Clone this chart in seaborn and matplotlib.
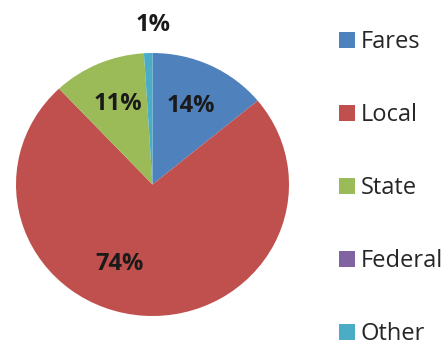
import numpy as np
import matplotlib
matplotlib.use("Agg")
import matplotlib.pyplot as plt
import seaborn as sns
from matplotlib.patches import Patch

categories = ["Fares", "Local", "State", "Federal", "Other"]
shares = [14, 74, 11, 0, 1]
labels = ["14%", "74%", "11%", "", "1%"]

palette = ["#4F81BD", "#C0504D", "#9BBB59", "#8064A2", "#4BACC6"]

sns.set_theme(style="white")
plt.rcParams["font.family"] = ["Open Sans", "DejaVu Sans"]

fig = plt.figure(figsize=(4.48, 3.48), dpi=100)
fig.patch.set_facecolor("white")
W, H = 448, 348
cx, cy, rx, ry = 152.5, 184.5, 136.5, 131.5
ax = fig.add_axes([(cx - rx) / W, (H - cy - ry) / H, 2 * rx / W, 2 * ry / H])

wedges, _ = ax.pie(shares, colors=palette, startangle=90, counterclock=False,
                   radius=1, wedgeprops=dict(linewidth=0))
ax.set_xlim(-1, 1)
ax.set_ylim(-1, 1)
ax.set_aspect("auto")
ax.axis("off")

# label distances (Excel-like placement)
dist = [0.66, 0.65, 0.66, 0.0, 1.21]
angle_shift = [0, -18, -1, 0, -2]
for w, lab, d, s in zip(wedges, labels, dist, angle_shift):
    if not lab:
        continue
    mid = np.deg2rad((w.theta1 + w.theta2) / 2 + s)
    ax.text(d * np.cos(mid), d * np.sin(mid), lab, ha="center", va="center",
            fontsize=17, fontweight="bold", color="#1a1a1a", clip_on=False)

handles = [Patch(facecolor=c, edgecolor="none") for c in palette]
fig.legend(handles, categories, loc="upper left",
           bbox_to_anchor=(339 / W, 1 - 30 / H), frameon=False,
           fontsize=17, labelspacing=2.08, handlelength=0.68, handleheight=0.68,
           handletextpad=0.25, borderpad=0, borderaxespad=0)

fig.savefig("out.png", dpi=100, facecolor="white")
